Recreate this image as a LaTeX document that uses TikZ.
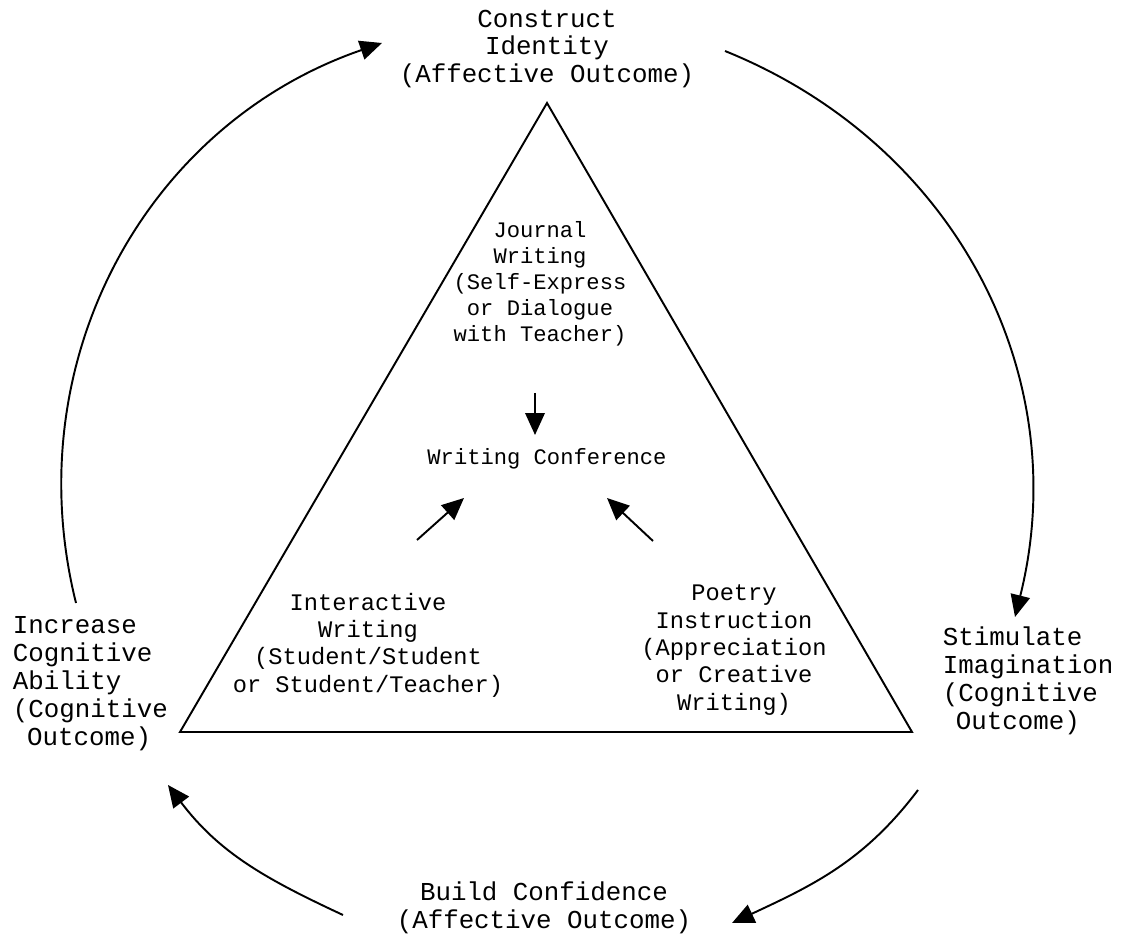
\documentclass[tikz,border=0pt]{standalone}
\usepackage{fontspec}
\newfontfamily\typewriter{Liberation Mono}
\usetikzlibrary{arrows.meta, calc}

\begin{document}
\begin{tikzpicture}[
                x=0.02cm, y=0.02cm,
                line width=1.1pt,
                arr/.style={-{Triangle[length=4.4mm, width=3.9mm]}},
                outcome/.style={inner sep=0pt, font=\typewriter\fontsize{14.7}{15.9}\selectfont},
                method/.style={inner sep=0pt, align=center, font=\typewriter\fontsize{13.5}{15.6}\selectfont},
                centre/.style={inner sep=0pt, align=center, font=\typewriter\fontsize{12.6}{14.8}\selectfont}
            ]
            \useasboundingbox (0,0) rectangle (1126,941);

            % Outcomes round the cycle
            \node[outcome, align=center] (identity) at (547,892) {Construct\\Identity\\(Affective Outcome)};
            \node[outcome, align=left, anchor=west] (imagination) at (942,260) {Stimulate\\Imagination\\(Cognitive\\\hspace*{0.5em}Outcome)};
            \node[outcome, align=center] (confidence) at (544,33) {Build Confidence\\(Affective Outcome)};
            \node[outcome, align=left, anchor=west] (ability) at (12,257) {Increase\\Cognitive\\Ability\\(Cognitive\\\hspace*{0.55em}Outcome)};

            % Triangle of writing activities
            \draw (547,838) -- (912,209) -- (180,209) -- cycle;
            \node[centre] (journal) at (540,657) {Journal\\Writing\\(Self-Express\\or Dialogue\\with Teacher)};
            \node[centre] (conference) at (547,482) {Writing Conference};
            \node[method] (interactive) at (368,296) {Interactive\\Writing\\(Student/Student\\or Student/Teacher)};
            \node[method] (poetry) at (734,291) {Poetry\\Instruction\\(Appreciation\\or Creative\\Writing)};

            % Arrows into the conference
            \draw[arr] ($(journal)+(-5,-109)$) -- ($(conference)+(-12,24)$);
            \draw[arr] ($(interactive)+(49,105)$) -- ($(conference)+(-83,-39)$);
            \draw[arr] ($(poetry)+(-81,109)$) -- ($(conference)+(60,-39)$);

            % Outer cycle
            \draw[arr] ($(ability.west)+(64,81)$) to[out=104, in=199] ($(identity)+(-165,6)$);
            \draw[arr] ($(identity)+(178,-2)$) to[out=-22, in=76] ($(imagination.west)+(73,64)$);
            \draw[arr] ($(imagination.west)+(-24,-109)$) to[out=-127, in=25] ($(confidence)+(188,-15)$);
            \draw[arr] ($(confidence)+(-201,-7)$) to[out=155, in=-53] ($(ability.west)+(156,-101)$);
        \end{tikzpicture}
\end{document}
